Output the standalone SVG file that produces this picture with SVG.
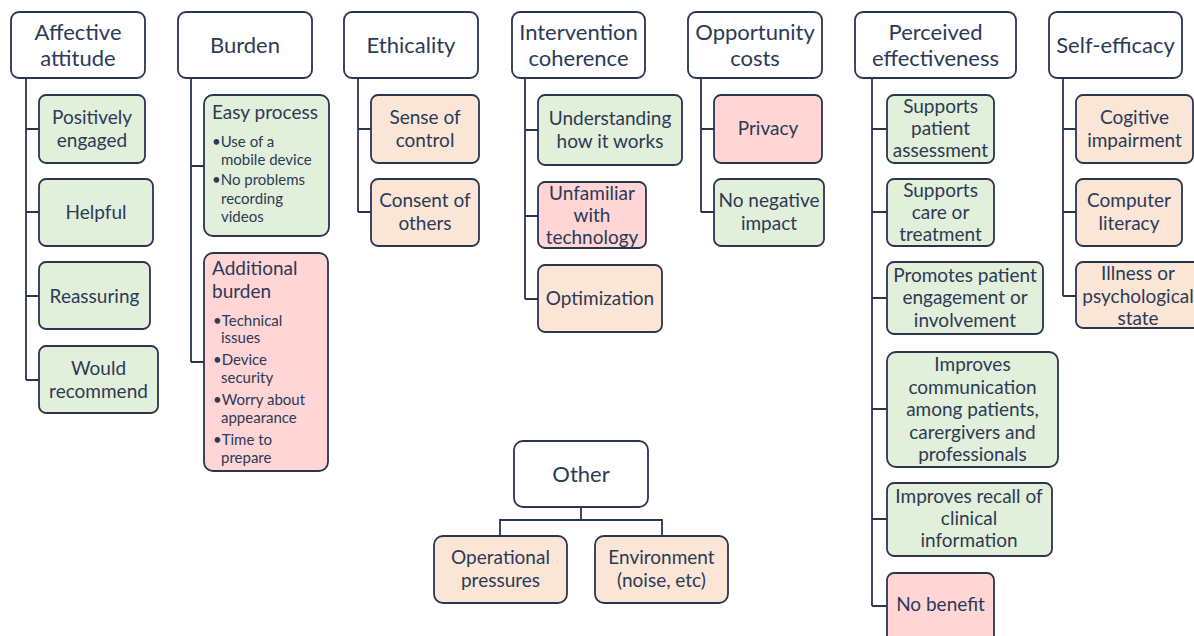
<svg xmlns="http://www.w3.org/2000/svg" width="1194" height="636" viewBox="0 0 1194 636">
<style>
.hd{fill:#ffffff;stroke:#2b3550;stroke-width:1.8}
.g{fill:#e2efda;stroke:#2b3550;stroke-width:1.8}
.p{fill:#fbe5d6;stroke:#2b3550;stroke-width:1.8}
.r{fill:#ffd5d5;stroke:#2b3550;stroke-width:1.8}
text{font-family:Lato,"Open Sans","Liberation Sans",sans-serif;fill:#2c3a55}
.ht{font-size:22px;text-anchor:middle}
.ct{font-size:19px;text-anchor:middle}
.ttl{font-size:19px}
.bt{font-size:15px}
.cn{fill:none;stroke:#2b3550;stroke-width:1.8}
</style>
<rect width="1194" height="636" fill="#ffffff"/>
<g id="connectors" class="cn">
<path d="M26 78V380M26 129H39M26 212H39M26 296H39M26 380H39"/>
<path d="M191 78V362M191 166H204M191 362H204"/>
<path d="M358 78V212M358 129H371M358 212H371"/>
<path d="M525 78V299M525 130H538M525 216H538M525 299H538"/>
<path d="M701 78V212M701 129H714M701 212H714"/>
<path d="M872 78V606M872 129H887M872 212H887M872 298H887M872 409H887M872 519H887M872 606H887"/>
<path d="M1063 78V296M1063 129H1076M1063 212H1076M1063 296H1076"/>
<path d="M581 507V520M500 536V520H662V536"/>
</g>
<g id="affective-attitude"><rect class="hd" x="11" y="12" width="134" height="66" rx="8"/><text class="ht" x="78" y="40">Affective</text><text class="ht" x="78" y="66">attitude</text></g>
<g id="positively-engaged"><rect class="g" x="39" y="95" width="106" height="68" rx="7"/><text class="ct" x="92" y="124">Positively</text><text class="ct" x="92" y="147">engaged</text></g>
<g id="helpful"><rect class="g" x="39" y="179" width="114" height="67" rx="7"/><text class="ct" x="96" y="219">Helpful</text></g>
<g id="reassuring"><rect class="g" x="39" y="262" width="111" height="67" rx="7"/><text class="ct" x="94.5" y="303">Reassuring</text></g>
<g id="would-recommend"><rect class="g" x="39" y="346" width="119" height="67" rx="7"/><text class="ct" x="98.5" y="375">Would</text><text class="ct" x="98.5" y="398">recommend</text></g>

<g id="burden"><rect class="hd" x="178" y="12" width="134" height="66" rx="8"/><text class="ht" x="245" y="53">Burden</text></g>
<g id="easy-process"><rect class="g" x="204" y="95" width="125" height="141" rx="9"/><text class="ttl" x="212" y="119">Easy process</text>
<text class="bt" x="212" y="147">•Use of a</text><text class="bt" x="221" y="165">mobile device</text><text class="bt" x="212" y="185">•No problems</text><text class="bt" x="221" y="204">recording</text><text class="bt" x="221" y="222">videos</text></g>
<g id="additional-burden"><rect class="r" x="204" y="253" width="124" height="218" rx="9"/><text class="ttl" x="212" y="275">Additional</text><text class="ttl" x="212" y="298">burden</text>
<text class="bt" x="213" y="326">•Technical</text><text class="bt" x="221" y="343">issues</text><text class="bt" x="213" y="365">•Device</text><text class="bt" x="221" y="383">security</text><text class="bt" x="213" y="405">•Worry about</text><text class="bt" x="221" y="423">appearance</text><text class="bt" x="213" y="445">•Time to</text><text class="bt" x="221" y="463">prepare</text></g>

<g id="ethicality"><rect class="hd" x="344" y="12" width="134" height="66" rx="8"/><text class="ht" x="411" y="53">Ethicality</text></g>
<g id="sense-of-control"><rect class="p" x="371" y="95" width="108" height="68" rx="7"/><text class="ct" x="425" y="124">Sense of</text><text class="ct" x="425" y="147">control</text></g>
<g id="consent-of-others"><rect class="p" x="371" y="179" width="108" height="67" rx="7"/><text class="ct" x="425" y="207">Consent of</text><text class="ct" x="425" y="230">others</text></g>

<g id="intervention-coherence"><rect class="hd" x="512" y="12" width="133" height="66" rx="8"/><text class="ht" x="578.5" y="40">Intervention</text><text class="ht" x="578.5" y="66">coherence</text></g>
<g id="understanding"><rect class="g" x="538" y="95" width="144" height="70" rx="7"/><text class="ct" x="610" y="125">Understanding</text><text class="ct" x="610" y="148">how it works</text></g>
<g id="unfamiliar"><rect class="r" x="538" y="182" width="108" height="66" rx="7"/><text class="ct" x="592" y="200">Unfamiliar</text><text class="ct" x="592" y="222">with</text><text class="ct" x="592" y="244">technology</text></g>
<g id="optimization"><rect class="p" x="538" y="265" width="124" height="67" rx="7"/><text class="ct" x="600" y="305">Optimization</text></g>

<g id="opportunity-costs"><rect class="hd" x="688" y="12" width="134" height="66" rx="8"/><text class="ht" x="755" y="40">Opportunity</text><text class="ht" x="755" y="66">costs</text></g>
<g id="privacy"><rect class="r" x="714" y="95" width="108" height="68" rx="7"/><text class="ct" x="768" y="135">Privacy</text></g>
<g id="no-negative-impact"><rect class="g" x="714" y="179" width="110" height="67" rx="7"/><text class="ct" x="769" y="207">No negative</text><text class="ct" x="769" y="230">impact</text></g>

<g id="perceived-effectiveness"><rect class="hd" x="855" y="12" width="161" height="66" rx="8"/><text class="ht" x="935.5" y="40">Perceived</text><text class="ht" x="935.5" y="66">effectiveness</text></g>
<g id="supports-assessment"><rect class="g" x="887" y="95" width="107" height="68" rx="7"/><text class="ct" x="940.5" y="113">Supports</text><text class="ct" x="940.5" y="135">patient</text><text class="ct" x="940.5" y="157">assessment</text></g>
<g id="supports-care"><rect class="g" x="887" y="179" width="107" height="67" rx="7"/><text class="ct" x="940.5" y="197">Supports</text><text class="ct" x="940.5" y="219">care or</text><text class="ct" x="940.5" y="241">treatment</text></g>
<g id="promotes-engagement"><rect class="g" x="887" y="262" width="156" height="72" rx="7"/><text class="ct" x="965" y="282">Promotes patient</text><text class="ct" x="965" y="304">engagement or</text><text class="ct" x="965" y="327">involvement</text></g>
<g id="improves-communication"><rect class="g" x="887" y="352" width="171" height="115" rx="9"/><text class="ct" x="972.5" y="371">Improves</text><text class="ct" x="972.5" y="394">communication</text><text class="ct" x="972.5" y="416">among patients,</text><text class="ct" x="972.5" y="439">carergivers and</text><text class="ct" x="972.5" y="461">professionals</text></g>
<g id="improves-recall"><rect class="g" x="887" y="483" width="165" height="73" rx="7"/><text class="ct" x="969" y="503">Improves recall of</text><text class="ct" x="969" y="525">clinical</text><text class="ct" x="969" y="547">information</text></g>
<g id="no-benefit"><rect class="r" x="887" y="573" width="107" height="72" rx="7"/><text class="ct" x="940.5" y="611">No benefit</text></g>

<g id="self-efficacy"><rect class="hd" x="1049" y="12" width="133" height="66" rx="8"/><text class="ht" x="1115.5" y="53">Self-efficacy</text></g>
<g id="cogitive-impairment"><rect class="p" x="1076" y="95" width="117" height="68" rx="7"/><text class="ct" x="1134.5" y="124">Cogitive</text><text class="ct" x="1134.5" y="147">impairment</text></g>
<g id="computer-literacy"><rect class="p" x="1076" y="179" width="106" height="67" rx="7"/><text class="ct" x="1129" y="207">Computer</text><text class="ct" x="1129" y="230">literacy</text></g>
<g id="illness"><rect class="p" x="1076" y="262" width="126" height="66" rx="7"/><text class="ct" x="1138" y="280">Illness or</text><text class="ct" x="1138" y="303">psychological</text><text class="ct" x="1138" y="325">state</text></g>

<g id="other"><rect class="hd" x="514" y="441" width="134" height="66" rx="9"/><text class="ht" x="581" y="482">Other</text></g>
<g id="operational-pressures"><rect class="p" x="434" y="536" width="133" height="67" rx="9"/><text class="ct" x="500.5" y="564">Operational</text><text class="ct" x="500.5" y="587">pressures</text></g>
<g id="environment"><rect class="p" x="595" y="536" width="133" height="67" rx="9"/><text class="ct" x="661.5" y="564">Environment</text><text class="ct" x="661.5" y="587">(noise, etc)</text></g>
</svg>
